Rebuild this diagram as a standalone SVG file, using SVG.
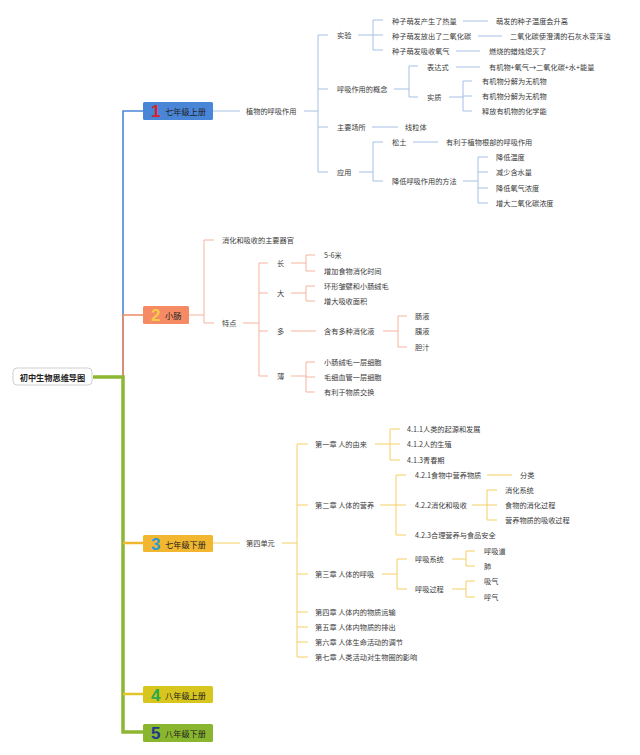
<svg xmlns="http://www.w3.org/2000/svg" width="640" height="755" viewBox="0 0 640 755">
<style>
text{font-family:"Noto Sans CJK SC","Noto Sans",sans-serif;dominant-baseline:central;}
.t{font-size:7.2px;fill:#3a3a3a;}
.n{font-size:8.2px;fill:#222;}
.num{font-family:"Liberation Sans","Noto Sans",sans-serif;font-size:17px;font-weight:bold;}
.c1{fill:none;stroke:#a6bfe4;stroke-width:1;}
.c2{fill:none;stroke:#f5b49d;stroke-width:1;}
.c3{fill:none;stroke:#f5cf63;stroke-width:1;}
</style>
<rect width="640" height="755" fill="#ffffff"/>
<g id="connectors">
<path d="M93,377 H123 V111 H143" fill="none" stroke="#4a86d8" stroke-width="1.6"/>
<path d="M93,377 H123 V315 H143" fill="none" stroke="#f08a63" stroke-width="1.6"/>
<path d="M93,377 H123 V732 H143" fill="none" stroke="#8db733" stroke-width="3.5"/>
<path d="M123,543 H143" fill="none" stroke="#f0b62e" stroke-width="2.5"/>
<path d="M123,694 H143" fill="none" stroke="#e0c626" stroke-width="2.5"/>
<path class="c1" d="M213,111 H240 M304,111 H318 M328,35 H318 V172 H328 M318,89 H328 M318,127 H328 M358,35 H373 M383,20 H373 V50 H383 M373,35 H383 M463,21 H488 M478,36 H502 M456,51 H480 M394,89 H409 M418,66 H409 V97 H418 M456,67 H480 M449,97 H463 M472,81 H463 V111 H472 M463,96 H472 M372,127 H398 M359,172 H373 M383,142 H373 V181 H383 M413,142 H438 M463,181 H478 M488,157 H478 V203 H488 M478,172 H488 M478,188 H488"/>
<path class="c2" d="M189,315 H204 M214,240 H204 V323 H214 M243,323 H259 M268,263 H259 V376 H268 M259,293 H268 M259,331 H268 M291,263 H306 M315,255 H306 V271 H315 M291,293 H306 M315,286 H306 V301 H315 M291,331 H316 M383,331 H398 M407,316 H398 V347 H407 M291,376 H306 M315,362 H306 V392 H315 M306,377 H315"/>
<path class="c3" d="M213,543 H240 M282,543 H297 M308,444 H297 V657 H308 M297,505 H308 M297,574 H308 M297,612 H308 M297,627 H308 M297,642 H308 M375,444 H390 M400,429 H390 V460 H400 M390,444 H400 M380,505 H396 M406,475 H396 V535 H406 M396,505 H406 M487,475 H512 M472,505 H487 M497,490 H487 V520 H497 M487,505 H497 M382,574 H397 M407,559 H397 V589 H407 M452,559 H466 M475,551 H466 V566 H475 M452,589 H466 M475,581 H466 V597 H475"/>
</g>
<g id="root">
<rect x="13" y="368" width="79" height="17" rx="4" fill="#fff" stroke="#c4c4c4" stroke-width="0.8"/>
<text x="52.5" y="377" text-anchor="middle" style="font-size:8.2px;font-weight:bold;fill:#222">初中生物思维导图</text>
</g>
<g id="node1">
<rect x="143" y="102" width="70" height="18" rx="1.5" fill="#4a86d8"/>
<text class="num" x="151" y="111.5" fill="#d8232f">1</text>
<text class="n" x="165" y="111">七年级上册</text>
</g>
<g id="node2">
<rect x="143" y="306" width="46" height="18" rx="1.5" fill="#f58b65"/>
<text class="num" x="151" y="315.5" fill="#f7cb4a">2</text>
<text class="n" x="165" y="315">小肠</text>
</g>
<g id="node3">
<rect x="143" y="535" width="70" height="17" rx="1.5" fill="#f2b630"/>
<text class="num" x="151" y="544" fill="#2e9ad6">3</text>
<text class="n" x="165" y="543.5">七年级下册</text>
</g>
<g id="node4">
<rect x="143" y="686" width="70" height="17" rx="1.5" fill="#d8c61f"/>
<text class="num" x="151" y="695" fill="#2ea84a">4</text>
<text class="n" x="165" y="694.5">八年级上册</text>
</g>
<g id="node5">
<rect x="143" y="724" width="70" height="18" rx="1.5" fill="#8ab52f"/>
<text class="num" x="151" y="733.5" fill="#1e3a8a">5</text>
<text class="n" x="165" y="733">八年级下册</text>
</g>
<g id="sec1">
<text class="t" x="246" y="111">植物的呼吸作用</text>
<text class="t" x="337" y="35">实验</text>
<text class="t" x="392" y="21">种子萌发产生了热量</text>
<text class="t" x="496" y="21">萌发的种子温度会升高</text>
<text class="t" x="392" y="36">种子萌发放出了二氧化碳</text>
<text class="t" x="510" y="36">二氧化碳使澄清的石灰水变浑浊</text>
<text class="t" x="392" y="51">种子萌发吸收氧气</text>
<text class="t" x="489" y="51">燃烧的蜡烛熄灭了</text>
<text class="t" x="337" y="89">呼吸作用的概念</text>
<text class="t" x="427" y="67">表达式</text>
<text class="t" x="489" y="67">有机物+氧气→二氧化碳+水+能量</text>
<text class="t" x="427" y="97">实质</text>
<text class="t" x="482" y="81">有机物分解为无机物</text>
<text class="t" x="482" y="96">有机物分解为无机物</text>
<text class="t" x="482" y="111">释放有机物的化学能</text>
<text class="t" x="337" y="127">主要场所</text>
<text class="t" x="405" y="127">线粒体</text>
<text class="t" x="337" y="172">应用</text>
<text class="t" x="392" y="142">松土</text>
<text class="t" x="446" y="142">有利于植物根部的呼吸作用</text>
<text class="t" x="392" y="181">降低呼吸作用的方法</text>
<text class="t" x="496" y="157">降低温度</text>
<text class="t" x="496" y="172">减少含水量</text>
<text class="t" x="496" y="188">降低氧气浓度</text>
<text class="t" x="496" y="203">增大二氧化碳浓度</text>
</g>
<g id="sec2">
<text class="t" x="222" y="240">消化和吸收的主要器官</text>
<text class="t" x="222" y="323">特点</text>
<text class="t" x="277" y="263">长</text>
<text class="t" x="277" y="293">大</text>
<text class="t" x="277" y="331">多</text>
<text class="t" x="277" y="376">薄</text>
<text class="t" x="324" y="255">5-6米</text>
<text class="t" x="324" y="271">增加食物消化时间</text>
<text class="t" x="324" y="286">环形皱襞和小肠绒毛</text>
<text class="t" x="324" y="301">增大吸收面积</text>
<text class="t" x="324" y="331">含有多种消化液</text>
<text class="t" x="415" y="316">肠液</text>
<text class="t" x="415" y="331">胰液</text>
<text class="t" x="415" y="347">胆汁</text>
<text class="t" x="324" y="362">小肠绒毛一层细胞</text>
<text class="t" x="324" y="377">毛细血管一层细胞</text>
<text class="t" x="324" y="392">有利于物质交换</text>
</g>
<g id="sec3">
<text class="t" x="246" y="543">第四单元</text>
<text class="t" x="315" y="444">第一章 人的由来</text>
<text class="t" x="407" y="429">4.1.1人类的起源和发展</text>
<text class="t" x="407" y="444">4.1.2人的生殖</text>
<text class="t" x="407" y="460">4.1.3青春期</text>
<text class="t" x="315" y="505">第二章 人体的营养</text>
<text class="t" x="415" y="475">4.2.1食物中营养物质</text>
<text class="t" x="520" y="475">分类</text>
<text class="t" x="415" y="505">4.2.2消化和吸收</text>
<text class="t" x="505" y="490">消化系统</text>
<text class="t" x="505" y="505">食物的消化过程</text>
<text class="t" x="505" y="520">营养物质的吸收过程</text>
<text class="t" x="415" y="535">4.2.3合理营养与食品安全</text>
<text class="t" x="315" y="574">第三章 人体的呼吸</text>
<text class="t" x="415" y="559">呼吸系统</text>
<text class="t" x="484" y="551">呼吸道</text>
<text class="t" x="484" y="566">肺</text>
<text class="t" x="415" y="589">呼吸过程</text>
<text class="t" x="484" y="581">吸气</text>
<text class="t" x="484" y="597">呼气</text>
<text class="t" x="315" y="612">第四章 人体内的物质运输</text>
<text class="t" x="315" y="627">第五章 人体内物质的排出</text>
<text class="t" x="315" y="642">第六章 人体生命活动的调节</text>
<text class="t" x="315" y="657">第七章 人类活动对生物圈的影响</text>
</g>
</svg>
